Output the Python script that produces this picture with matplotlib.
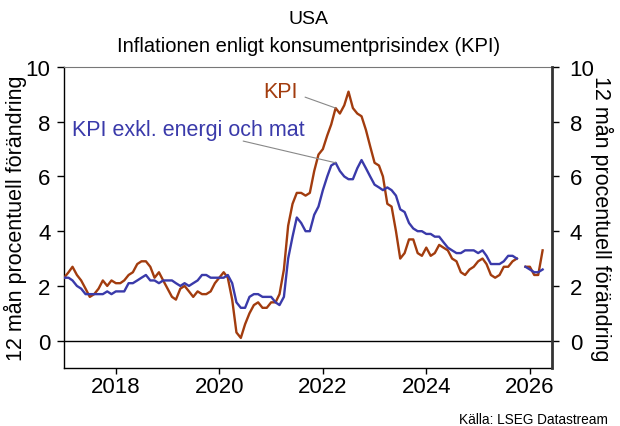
import numpy as np
import pandas as pd
import matplotlib
matplotlib.use("Agg")
import matplotlib.pyplot as plt

plt.rcParams['font.family'] = ['Liberation Sans', 'DejaVu Sans']

# 12-month change, monthly, Dec 2016 - Mar 2026 (Oct 2025 missing)
kpi = [2.3,
       2.5, 2.7, 2.4, 2.2, 1.9, 1.6, 1.7, 1.9, 2.2, 2.0, 2.2, 2.1,
       2.1, 2.2, 2.4, 2.5, 2.8, 2.9, 2.9, 2.7, 2.3, 2.5, 2.2, 1.9,
       1.6, 1.5, 1.9, 2.0, 1.8, 1.6, 1.8, 1.7, 1.7, 1.8, 2.1, 2.3,
       2.5, 2.3, 1.5, 0.3, 0.1, 0.6, 1.0, 1.3, 1.4, 1.2, 1.2, 1.4,
       1.4, 1.7, 2.6, 4.2, 5.0, 5.4, 5.4, 5.3, 5.4, 6.2, 6.8, 7.0,
       7.5, 7.9, 8.5, 8.3, 8.6, 9.1, 8.5, 8.3, 8.2, 7.7, 7.1, 6.5,
       6.4, 6.0, 5.0, 4.9, 4.0, 3.0, 3.2, 3.7, 3.7, 3.2, 3.1, 3.4,
       3.1, 3.2, 3.5, 3.4, 3.3, 3.0, 2.9, 2.5, 2.4, 2.6, 2.7, 2.9,
       3.0, 2.8, 2.4, 2.3, 2.4, 2.7, 2.7, 2.9, 3.0, np.nan, 2.7, 2.7,
       2.4, 2.4, 3.3]

kpi_core = [2.3,
            2.3, 2.2, 2.0, 1.9, 1.7, 1.7, 1.7, 1.7, 1.7, 1.8, 1.7, 1.8,
            1.8, 1.8, 2.1, 2.1, 2.2, 2.3, 2.4, 2.2, 2.2, 2.1, 2.2, 2.2,
            2.2, 2.1, 2.0, 2.1, 2.0, 2.1, 2.2, 2.4, 2.4, 2.3, 2.3, 2.3,
            2.3, 2.4, 2.1, 1.4, 1.2, 1.2, 1.6, 1.7, 1.7, 1.6, 1.6, 1.6,
            1.4, 1.3, 1.6, 3.0, 3.8, 4.5, 4.3, 4.0, 4.0, 4.6, 4.9, 5.5,
            6.0, 6.4, 6.5, 6.2, 6.0, 5.9, 5.9, 6.3, 6.6, 6.3, 6.0, 5.7,
            5.6, 5.5, 5.6, 5.5, 5.3, 4.8, 4.7, 4.3, 4.1, 4.0, 4.0, 3.9,
            3.9, 3.8, 3.8, 3.6, 3.4, 3.3, 3.2, 3.2, 3.3, 3.3, 3.3, 3.2,
            3.3, 3.1, 2.8, 2.8, 2.8, 2.9, 3.1, 3.1, 3.0, np.nan, 2.7, 2.6,
            2.5, 2.5, 2.6]

dates = pd.date_range('2016-12-31', periods=len(kpi), freq='ME')
year_ticks = [2018, 2020, 2022, 2024, 2026]
y_ticks = [0, 2, 4, 6, 8, 10]

orange = '#A23C0E'
blue = '#3A3AAA'

fig = plt.figure(figsize=(6.2, 4.27), dpi=100)
ax = fig.add_axes([0.1037, 0.1358, 0.7861, 0.7049])

ax.plot(dates, kpi, color=orange, lw=1.7, zorder=3)
ax.plot(dates, kpi_core, color=blue, lw=1.7, zorder=3)
ax.axhline(0, color='black', lw=1, zorder=2)

ax.set_xlim(pd.Timestamp('2017-01-01'), pd.Timestamp('2026-06-03'))
ax.set_ylim(-1, 10)
ax.set_xticks([pd.Timestamp(f'{y}-01-01') for y in year_ticks])
ax.set_xticklabels([str(y) for y in year_ticks])
ax.set_yticks(y_ticks)

ax.tick_params(axis='x', direction='out', length=4, width=1, labelsize=16, pad=2)
ax.tick_params(axis='y', direction='out', length=5, width=1, labelsize=16, pad=5)

ax.spines['top'].set_color('#777777')
ax.spines['top'].set_linewidth(0.8)
ax.spines['left'].set_linewidth(1)
ax.spines['bottom'].set_linewidth(1)
ax.spines['right'].set_visible(False)

ax2 = ax.twinx()
ax2.set_ylim(-1, 10)
ax2.set_yticks(y_ticks)
ax2.tick_params(axis='y', direction='out', length=5, width=1, labelsize=16, pad=8)
ax2.spines['right'].set_linewidth(2)
ax2.spines['right'].set_color('#333333')
for s in ['top', 'left', 'bottom']:
    ax2.spines[s].set_visible(False)

ax.set_ylabel('12 mån procentuell förändring', fontsize=15.5)
ax.yaxis.set_label_coords(-0.077, 0.5)
ax2.set_ylabel('12 mån procentuell förändring', fontsize=15.5, rotation=270, va='center')
ax2.yaxis.set_label_coords(1.103, 0.5)

# annotations
i_mar22 = 63
ax.text(0.408, 0.92, 'KPI', color=orange, fontsize=15.5, transform=ax.transAxes, va='center')
ax.annotate('', xy=(dates[i_mar22], kpi[i_mar22]), xytext=(0.494, 0.900), textcoords='axes fraction',
            arrowprops=dict(arrowstyle='-', color='#888888', lw=0.8, shrinkA=0, shrinkB=0))
ax.text(0.016, 0.794, 'KPI exkl. energi och mat', color=blue, fontsize=15.5, transform=ax.transAxes, va='center')
ax.annotate('', xy=(dates[i_mar22], kpi_core[i_mar22]), xytext=(0.367, 0.754), textcoords='axes fraction',
            arrowprops=dict(arrowstyle='-', color='#888888', lw=0.8, shrinkA=0, shrinkB=0))

fig.text(0.497, 0.955, 'USA', ha='center', va='center', fontsize=14)
fig.text(0.497, 0.890, 'Inflationen enligt konsumentprisindex (KPI)', ha='center', va='center', fontsize=14.5)
fig.text(0.981, 0.016, 'Källa: LSEG Datastream', ha='right', va='center', fontsize=9.8)

fig.savefig('out.png', dpi=100)
